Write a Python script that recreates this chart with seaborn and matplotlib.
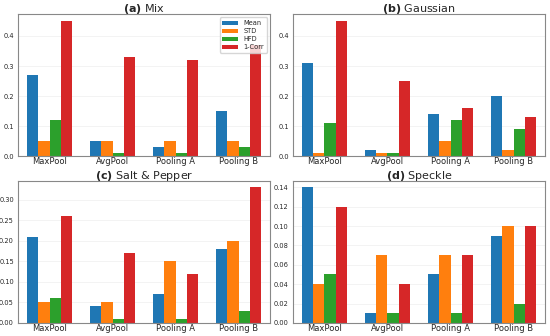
import pandas as pd
import matplotlib.pyplot as plt
import seaborn as sns

pools = ['MaxPool', 'AvgPool', 'Pooling A', 'Pooling B']
metrics = ['Mean', 'STD', 'HFD', '1-Corr']

# values, one list per metric
mix = {'Mean': [0.27, 0.05, 0.03, 0.15],
       'STD': [0.05, 0.05, 0.05, 0.05],
       'HFD': [0.12, 0.01, 0.01, 0.03],
       '1-Corr': [0.45, 0.33, 0.32, 0.37]}
gaussian = {'Mean': [0.31, 0.02, 0.14, 0.20],
            'STD': [0.01, 0.01, 0.05, 0.02],
            'HFD': [0.11, 0.01, 0.12, 0.09],
            '1-Corr': [0.45, 0.25, 0.16, 0.13]}
salt_pepper = {'Mean': [0.21, 0.04, 0.07, 0.18],
               'STD': [0.05, 0.05, 0.15, 0.20],
               'HFD': [0.06, 0.01, 0.01, 0.03],
               '1-Corr': [0.26, 0.17, 0.12, 0.33]}
speckle = {'Mean': [0.14, 0.01, 0.05, 0.09],
           'STD': [0.04, 0.07, 0.07, 0.10],
           'HFD': [0.05, 0.01, 0.01, 0.02],
           '1-Corr': [0.12, 0.04, 0.07, 0.10]}

panels = [('a', 'Mix', mix), ('b', 'Gaussian', gaussian),
          ('c', 'Salt & Pepper', salt_pepper), ('d', 'Speckle', speckle)]

sns.set_style('white')
palette = sns.color_palette('tab10', 4)

fig, axes = plt.subplots(2, 2, figsize=(5.5, 3.36), dpi=100)
fig.subplots_adjust(left=0.033, right=0.991, top=0.958, bottom=0.039,
                    wspace=0.09, hspace=0.17)

for ax, (tag, name, vals) in zip(axes.flat, panels):
    rows = []
    for m in metrics:
        for p, v in zip(pools, vals[m]):
            rows.append({'pool': p, 'metric': m, 'value': v})
    df = pd.DataFrame(rows)
    sns.barplot(data=df, x='pool', y='value', hue='metric', order=pools,
                hue_order=metrics, palette=palette, width=0.72, saturation=1,
                linewidth=0, ax=ax, legend=(tag == 'a'))
    ax.set_title(r'$\mathbf{(' + tag + r')}$ ' + name, fontsize=8, pad=1.5)
    ax.set_xlabel('')
    ax.set_ylabel('')
    ax.grid(axis='y', color='#eeeeee', linewidth=0.5)
    ax.set_axisbelow(True)
    ax.tick_params(axis='x', labelsize=6, pad=0.5, length=0)
    ax.tick_params(axis='y', labelsize=4.8, pad=1, length=2)
    for s in ax.spines.values():
        s.set_color('#888888')
        s.set_linewidth(0.8)
    if tag == 'a':
        ax.legend(loc='upper right', fontsize=4.8, handlelength=2.4,
                  handleheight=0.6, labelspacing=0.3, borderpad=0.4,
                  frameon=True)

plt.savefig('out.png', dpi=100)
